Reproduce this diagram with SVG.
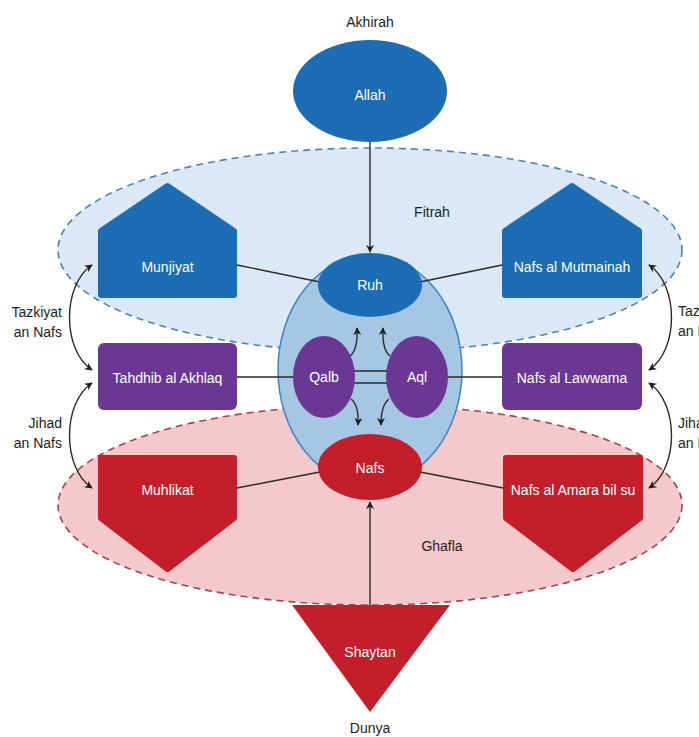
<svg xmlns="http://www.w3.org/2000/svg" width="699" height="737" viewBox="0 0 699 737">
<defs>
<style>
text{font-family:"Liberation Sans",Arial,sans-serif;font-size:14px;text-anchor:middle}
.w{fill:#ffffff}
.k{fill:#1e1e1e}
.blue{fill:#1c6db3;stroke:#1c6db3;stroke-width:6;stroke-linejoin:round}
.purple{fill:#6a3893}
.red{fill:#c21f2a;stroke:#c21f2a;stroke-width:6;stroke-linejoin:round}
.ln{fill:none;stroke:#2a2a2a;stroke-width:1.4}
.arr{fill:none;stroke:#2a2a2a;stroke-width:1.4;marker-end:url(#ah)}
.dbl{fill:none;stroke:#2a2a2a;stroke-width:1.4;marker-start:url(#ah);marker-end:url(#ah)}
</style>
<marker id="ah" viewBox="0 0 10 10" refX="9" refY="5" markerWidth="8" markerHeight="8" markerUnits="userSpaceOnUse" orient="auto-start-reverse">
<path d="M0,0 L10,5 L0,10 L3,5 z" fill="#1e1e1e"/>
</marker>
</defs>

<g id="regions">
<ellipse id="fitrah" cx="370" cy="250" rx="312" ry="102" fill="#dbe8f5" stroke="#4f82b3" stroke-width="1.6" stroke-dasharray="7,5"/>
<ellipse id="ghafla" cx="370" cy="505" rx="312" ry="100" fill="#f3c9cc" stroke="#a8404d" stroke-width="1.6" stroke-dasharray="7,5"/>
<text class="k" x="432" y="217">Fitrah</text>
<text class="k" x="442" y="551">Ghafla</text>
<text class="k" x="370" y="27">Akhirah</text>
<text class="k" x="370" y="733">Dunya</text>
</g>

<g id="self">
<ellipse cx="370" cy="370" rx="92" ry="115" fill="#a5c7e4" stroke="#3a86c8" stroke-width="1.5"/>
</g>

<g id="connectors">
<line class="arr" x1="370" y1="142" x2="370" y2="252"/>
<line class="arr" x1="370" y1="606" x2="370" y2="502"/>
<line class="ln" x1="237" y1="265" x2="320" y2="282"/>
<line class="ln" x1="420" y1="282" x2="502" y2="265"/>
<line class="ln" x1="237" y1="377" x2="294" y2="377"/>
<line class="ln" x1="447" y1="377" x2="502" y2="377"/>
<line class="ln" x1="237" y1="488" x2="320" y2="472"/>
<line class="ln" x1="420" y1="472" x2="503" y2="488"/>
<line class="ln" x1="354" y1="371" x2="388" y2="371"/>
<line class="ln" x1="354" y1="383" x2="388" y2="383"/>
<path class="arr" d="M350,356 Q358,350 357,328"/>
<path class="arr" d="M390,356 Q382,350 383,328"/>
<path class="arr" d="M351,399 Q359,405 358,425"/>
<path class="arr" d="M389,399 Q381,405 381,425"/>
<path class="dbl" d="M92,265 C62,285 62,350 92,370"/>
<path class="dbl" d="M92,383 C62,403 62,468 92,488"/>
<path class="dbl" d="M649,265 C679,285 679,350 649,370"/>
<path class="dbl" d="M649,383 C679,403 679,468 649,488"/>
</g>

<g id="allah">
<ellipse cx="370" cy="91" rx="77" ry="51" fill="#1c6db3"/>
<text class="w" x="370" y="100">Allah</text>
</g>
<g id="ruh">
<ellipse cx="370" cy="285" rx="52" ry="32" fill="#1c6db3"/>
<text class="w" x="370" y="290">Ruh</text>
</g>
<g id="qalb">
<ellipse cx="324" cy="377" rx="31" ry="41" fill="#6a3893"/>
<text class="w" x="324" y="382">Qalb</text>
</g>
<g id="aql">
<ellipse cx="417" cy="377" rx="31" ry="41" fill="#6a3893"/>
<text class="w" x="417" y="382">Aql</text>
</g>
<g id="nafs">
<ellipse cx="370" cy="467" rx="52" ry="33" fill="#c21f2a"/>
<text class="w" x="370" y="473">Nafs</text>
</g>

<g id="munjiyat">
<polygon class="blue" points="167.5,186 234,231 234,295 101,295 101,231"/>
<text class="w" x="167.5" y="272">Munjiyat</text>
</g>
<g id="mutmainah">
<polygon class="blue" points="572,186 639,231 639,295 505,295 505,231"/>
<text class="w" x="572" y="272">Nafs al Mutmainah</text>
</g>
<g id="tahdhib">
<rect class="purple" x="98" y="343" width="139" height="67" rx="6"/>
<text class="w" x="167.5" y="383">Tahdhib al Akhlaq</text>
</g>
<g id="lawwama">
<rect class="purple" x="502" y="343" width="140" height="67" rx="6"/>
<text class="w" x="572" y="383">Nafs al Lawwama</text>
</g>
<g id="muhlikat">
<polygon class="red" points="101,458 234,458 234,518 167.5,569 101,518"/>
<text class="w" x="167.5" y="495">Muhlikat</text>
</g>
<g id="amara">
<polygon class="red" points="506,458 640,458 640,518 573,569 506,518"/>
<text class="w" x="573" y="495">Nafs al Amara bil su</text>
</g>
<g id="shaytan">
<polygon points="292,605 450,605 370,712" fill="#c21f2a"/>
<text class="w" x="370" y="657">Shaytan</text>
</g>

<g id="labels">
<text class="k" x="62" y="317" style="text-anchor:end">Tazkiyat</text>
<text class="k" x="62" y="337" style="text-anchor:end">an Nafs</text>
<text class="k" x="62" y="428" style="text-anchor:end">Jihad</text>
<text class="k" x="62" y="448" style="text-anchor:end">an Nafs</text>
<text class="k" x="678" y="316" style="text-anchor:start">Tazkiyat</text>
<text class="k" x="678" y="336" style="text-anchor:start">an Nafs</text>
<text class="k" x="678" y="428" style="text-anchor:start">Jihad</text>
<text class="k" x="678" y="448" style="text-anchor:start">an Nafs</text>
</g>
</svg>
